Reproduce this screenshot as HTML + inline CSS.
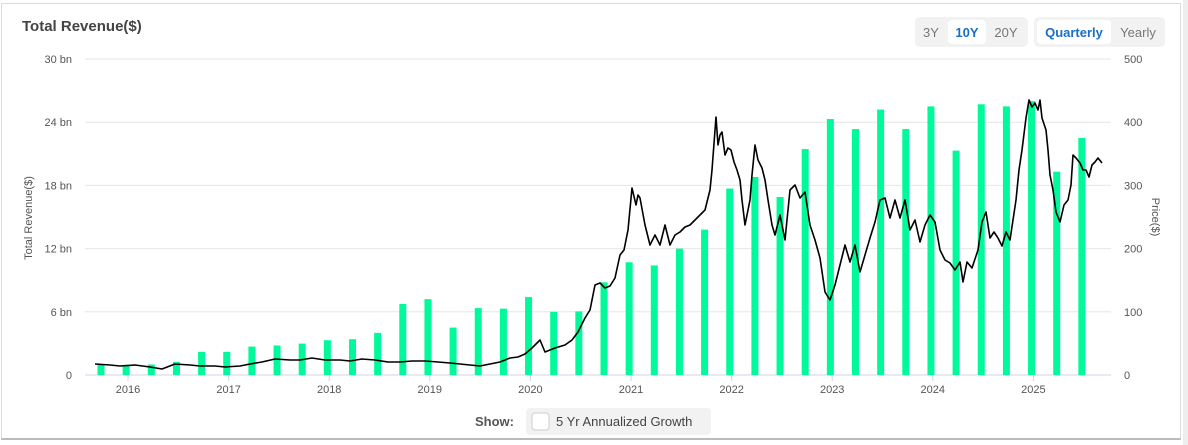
<!DOCTYPE html>
<html><head><meta charset="utf-8"><style>
html,body{margin:0;padding:0;background:#fff;}
body{width:1188px;height:445px;overflow:hidden;position:relative;font-family:"Liberation Sans",sans-serif;}
.card{position:absolute;left:1px;top:3px;width:1180px;height:437px;border:1px solid #ddd;border-bottom:2px solid #bbb;box-sizing:border-box;}
.title{position:absolute;left:22px;top:18px;font-size:15px;font-weight:bold;color:#444;}
.grp{position:absolute;top:17px;height:30px;background:#f2f2f2;border-radius:5px;}
.btn{position:absolute;top:3px;height:24px;line-height:25px;font-size:13px;color:#777;text-align:center;border-radius:4px;}
.act{background:#fff;color:#1a6fc4;font-weight:bold;}
.scroll{position:absolute;left:1183px;top:0;width:5px;height:445px;background:#eee;}
</style></head><body>
<div class="card"></div>
<div class="scroll"></div>
<div class="title">Total Revenue($)</div>
<div class="grp" style="left:915px;width:113px;">
<div class="btn" style="left:3px;width:26px;">3Y</div>
<div class="btn act" style="left:33px;width:38px;">10Y</div>
<div class="btn" style="left:73px;width:36px;">20Y</div>
</div>
<div class="grp" style="left:1034px;width:131px;">
<div class="btn act" style="left:3px;width:74px;">Quarterly</div>
<div class="btn" style="left:80px;width:48px;">Yearly</div>
</div>
<svg width="1188" height="445" style="position:absolute;left:0;top:0" id="s">
<g id="grid" stroke="#e6e6e6" stroke-width="1"></g>
<g id="bars" fill="#00f99a"></g>
<polyline id="pl" fill="none" stroke="#000" stroke-width="1.6" stroke-linejoin="round"/>
<g id="lab" font-family="Liberation Sans, sans-serif" font-size="11" fill="#555"></g>
<text x="32" y="218" transform="rotate(-90 32 218)" text-anchor="middle" font-size="11" fill="#555" font-family="Liberation Sans, sans-serif">Total Revenue($)</text>
<text x="1152" y="217" transform="rotate(90 1152 217)" text-anchor="middle" font-size="11" fill="#555" font-family="Liberation Sans, sans-serif">Price($)</text>
<text x="514" y="426" text-anchor="end" font-size="13" font-weight="bold" fill="#555" font-family="Liberation Sans, sans-serif">Show:</text>
<rect x="526" y="408" width="185" height="27" rx="4" fill="#f2f2f2"/>
<rect x="532" y="413" width="17" height="17" rx="3" fill="#fff" stroke="#ccc"/>
<text x="556" y="426" font-size="13" fill="#444" font-family="Liberation Sans, sans-serif">5 Yr Annualized Growth</text>
</svg>
<script>
var ns="http://www.w3.org/2000/svg";
function el(p,t,a,txt){var e=document.createElementNS(ns,t);for(var k in a)e.setAttribute(k,a[k]);if(txt)e.textContent=txt;document.getElementById(p).appendChild(e);}
var y0=375,h=316;
for(var i=0;i<=5;i++){var y=y0-i*h/5;el('grid','line',{x1:85,x2:1111,y1:y,y2:y,stroke:i==0?'#ccd6eb':'#e6e6e6'});
el('lab','text',{x:72,y:y+4,'text-anchor':'end'},i==0?'0':(i*6)+' bn');
el('lab','text',{x:1124,y:y+4},String(i*100));}
var yrs=[2016,2017,2018,2019,2020,2021,2022,2023,2024,2025];
for(var j=0;j<10;j++){var x=128+j*100.6;el('grid','line',{x1:x,x2:x,y1:375,y2:381,stroke:'#ccd6eb'});el('lab','text',{x:x,y:393,'text-anchor':'middle'},String(yrs[j]));}
var v=[0.95,0.95,1.0,1.25,2.2,2.2,2.7,2.8,2.98,3.3,3.4,4.0,6.75,7.2,4.5,6.35,6.3,7.4,6.0,6.04,8.8,10.7,10.4,12.0,13.8,17.7,18.8,16.9,21.45,24.3,23.35,25.2,23.35,25.5,21.3,25.7,25.5,26,19.3,22.5];
for(var b=0;b<40;b++){var cx=101+b*25.15,hh=v[b]*h/30;el('bars','rect',{x:cx-3.5,y:y0-hh,width:7,height:hh});}
var p=[95,364,110,365,120,366,135,365,150,367,162,369,175,364,190,365,200,366,215,366,225,367,240,366,250,364,262,362,275,359,290,360,300,360,312,358,325,360,340,360,350,361,362,359,375,360,388,362,400,362,412,361,425,361,438,362,450,363,460,364,470,365,480,366,490,364,500,362,510,358,518,357,525,354,532,348,540,340,545,352,555,348,565,345,572,340,578,332,585,318,590,310,595,285,600,283,605,288,610,286,615,278,620,255,624,250,628,230,632,188,636,205,638,195,640,198,645,225,650,245,655,235,660,245,665,225,670,245,675,235,680,232,685,227,690,225,695,220,700,215,705,210,710,190,712,170,716,117,718,145,720,135,722,132,725,155,728,148,731,150,734,162,737,170,740,180,742,200,745,225,750,200,752,175,755,145,758,160,762,168,765,180,768,200,772,225,775,235,780,215,785,240,790,190,795,185,800,198,805,192,810,225,815,240,820,258,825,292,830,300,835,285,840,265,845,245,850,262,855,245,860,272,865,255,870,238,875,222,880,200,885,198,890,218,895,200,900,218,905,200,910,230,915,220,920,242,925,225,930,215,935,222,940,250,945,260,950,263,955,270,960,262,963,282,967,262,972,268,978,250,982,222,986,212,990,238,994,232,998,238,1002,246,1006,232,1010,240,1013,220,1016,200,1019,170,1022,150,1026,118,1029,100,1032,107,1035,103,1038,110,1040,100,1042,118,1046,130,1048,150,1050,175,1053,190,1056,212,1060,222,1064,205,1068,200,1071,185,1073,155,1076,158,1080,163,1083,170,1086,170,1089,177,1092,165,1095,162,1098,158,1102,163];
var s=[];for(var q=0;q<p.length;q+=2)s.push(p[q]+','+p[q+1]);document.getElementById('pl').setAttribute('points',s.join(' '));
</script>
</body></html>
